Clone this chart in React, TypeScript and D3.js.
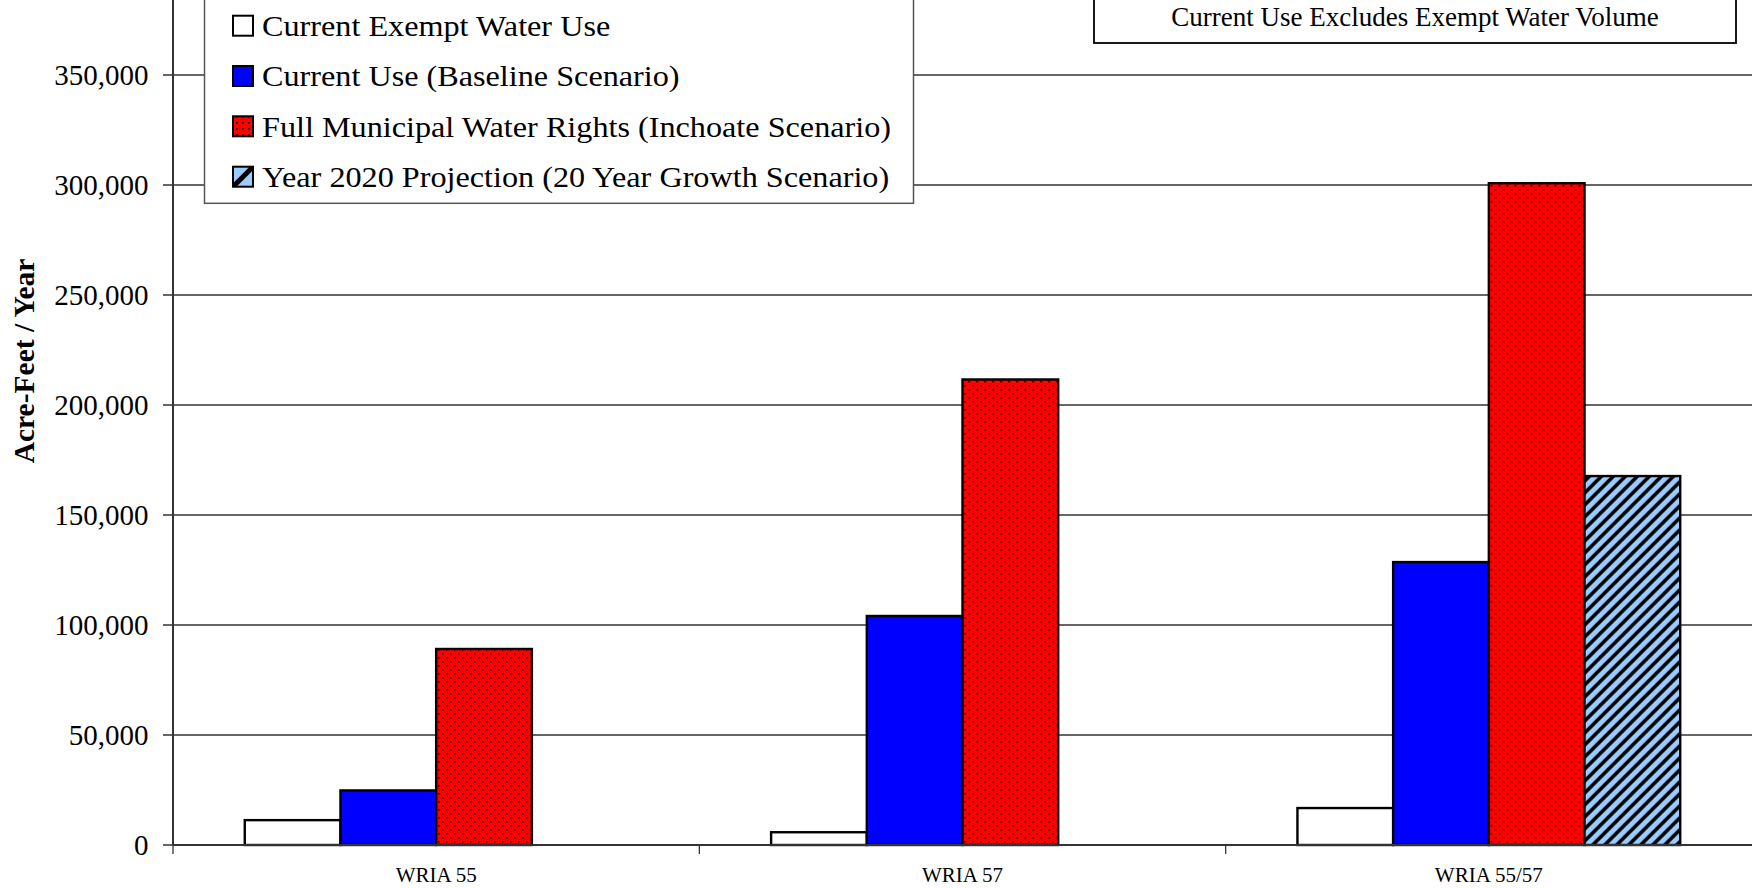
import React from "react";
import * as d3 from "d3";

const categories = ["WRIA 55", "WRIA 57", "WRIA 55/57"];
const seriesNames = [
  "Current Exempt Water Use",
  "Current Use (Baseline Scenario)",
  "Full Municipal Water Rights (Inchoate Scenario)",
  "Year 2020 Projection (20 Year Growth Scenario)",
];
const exemptValues = [11300, 5800, 16800];
const baselineValues = [24800, 104100, 128600];
const inchoateValues = [89100, 211600, 300800];
const projectionValues: (number | null)[] = [null, null, 167700];
const yTicks = [0, 50000, 100000, 150000, 200000, 250000, 300000, 350000];
const annotation = "Current Use Excludes Exempt Water Volume";
const yTitle = "Acre-Feet / Year";

const seriesValues = [exemptValues, baselineValues, inchoateValues, projectionValues];
const fills = ["#FFFFFF", "#0000FF", "url(#dots)", "url(#hatch)"];

const W = 1752;
const H = 888;
const left = 173;
const right = 1752;
const zeroY = 845;
const FONT = "'Liberation Serif', 'Times New Roman', serif";

export default function App() {
  const y = d3.scaleLinear().domain([0, 400000]).range([zeroY, zeroY - 8 * 110]);
  const x0 = d3.scaleBand<string>().domain(categories).range([left, right]).padding(0);
  const x1 = d3
    .scaleBand<string>()
    .domain(seriesNames)
    .range([0, x0.bandwidth()])
    .paddingInner(0)
    .paddingOuter(0.75);
  const fmt = d3.format(",");

  const legendBaselines = [36, 86.3, 136.6, 187];

  return (
    <svg
      width={W}
      height={H}
      style={{ position: "absolute", left: 0, top: 0, background: "#fff" }}
      fontFamily={FONT}
    >
      <defs>
        <pattern id="dots" width={8} height={8} patternUnits="userSpaceOnUse">
          <rect width={8} height={8} fill="#FF0000" />
          <rect x={1} y={1} width={1.6} height={1.6} fill="#200000" />
          <rect x={5} y={5} width={1.6} height={1.6} fill="#200000" />
        </pattern>
        <pattern id="hatch" width={12} height={12} patternUnits="userSpaceOnUse">
          <rect width={12} height={12} fill="#99CCFF" />
          <path d="M-3,3 L3,-3 M0,12 L12,0 M9,15 L15,9" stroke="#000" strokeWidth={3.6} />
        </pattern>
        <pattern id="dotsL" width={6} height={6} patternUnits="userSpaceOnUse">
          <rect width={6} height={6} fill="#FF0000" />
          <rect x={2} y={2} width={1.6} height={1.6} fill="#200000" />
        </pattern>
      </defs>

      {/* gridlines */}
      {yTicks.map((t) => (
        <line
          key={"g" + t}
          x1={left - 10}
          x2={right}
          y1={y(t)}
          y2={y(t)}
          stroke="#333"
          strokeWidth={1.3}
        />
      ))}
      {/* y tick labels */}
      {yTicks.map((t) => (
        <text
          key={"t" + t}
          x={148.5}
          y={y(t) + 10}
          textAnchor="end"
          fontSize={29}
          fill="#000"
        >
          {fmt(t)}
        </text>
      ))}

      {/* bars */}
      {categories.map((c, ci) => (
        <g key={c} transform={`translate(${x0(c)},0)`}>
          {seriesNames.map((s, si) => {
            const v = seriesValues[si][ci];
            if (v == null) return null;
            return (
              <rect
                key={s}
                x={x1(s)}
                y={y(v)}
                width={x1.bandwidth()}
                height={y(0) - y(v)}
                fill={fills[si]}
                stroke="#000"
                strokeWidth={2.4}
              />
            );
          })}
        </g>
      ))}

      {/* axes */}
      <line x1={left} x2={left} y1={0} y2={zeroY} stroke="#333" strokeWidth={2} />
      <line x1={left} x2={right} y1={zeroY} y2={zeroY} stroke="#333" strokeWidth={2} />
      {categories.map((c) => (
        <line
          key={"xt" + c}
          x1={x0(c)!}
          x2={x0(c)!}
          y1={zeroY}
          y2={zeroY + 9}
          stroke="#333"
          strokeWidth={1.3}
        />
      ))}
      {categories.map((c) => (
        <text
          key={"xl" + c}
          x={x0(c)! + x0.bandwidth() / 2}
          y={882}
          textAnchor="middle"
          fontSize={21}
          fill="#000"
        >
          {c}
        </text>
      ))}

      {/* y title */}
      <text
        transform={`translate(34,361) rotate(-90)`}
        textAnchor="middle"
        fontSize={29.5}
        fontWeight="bold"
        fill="#000"
      >
        {yTitle}
      </text>

      {/* legend */}
      <rect x={204.5} y={-10} width={709} height={213.3} fill="#fff" stroke="#555" strokeWidth={1.5} />
      {seriesNames.map((s, i) => {
        const sy = legendBaselines[i] - 20.3;
        return (
          <g key={"lg" + s}>
            <rect
              x={233}
              y={sy}
              width={20}
              height={20}
              fill={i === 2 ? "url(#dotsL)" : i === 3 ? "#99CCFF" : fills[i]}
              stroke="#000"
              strokeWidth={2}
            />
            {i === 3 && (
              <path
                d={`M${234},${sy + 19} L${252},${sy + 1}`}
                stroke="#000"
                strokeWidth={5}
              />
            )}
            <text
              transform={`translate(262,${legendBaselines[i]}) scale(1.074,1)`}
              fontSize={30}
              fill="#000"
            >
              {s}
            </text>
          </g>
        );
      })}

      {/* annotation */}
      <rect x={1094} y={-10} width={642} height={53} fill="#fff" stroke="#000" strokeWidth={1.8} />
      <text x={1415} y={26} textAnchor="middle" fontSize={27} fill="#000">
        {annotation}
      </text>
    </svg>
  );
}
